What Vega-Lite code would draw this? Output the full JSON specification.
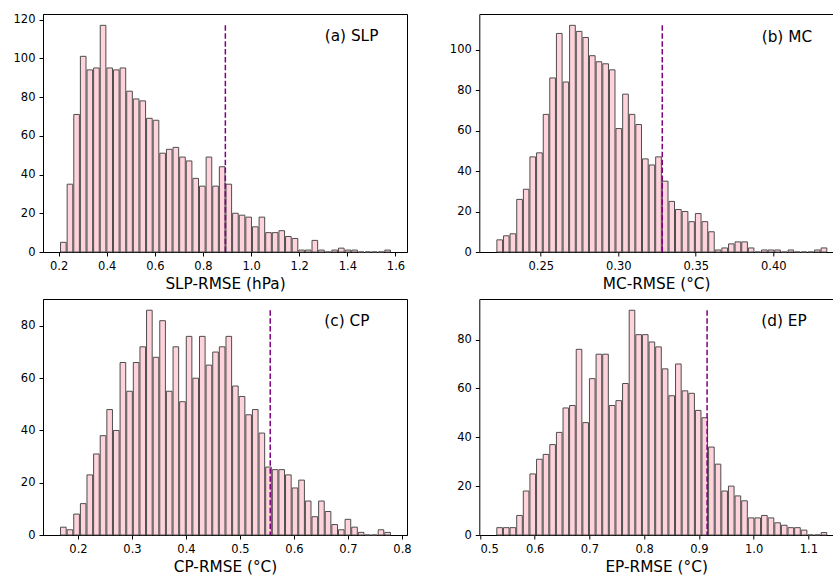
{
  "$schema": "https://vega.github.io/schema/vega-lite/v6.json",
  "padding": {"left": 12, "top": 13, "right": 0, "bottom": 0},
  "background": "white",
  "config": {
    "view": {"stroke": "black", "strokeWidth": 1},
    "font": "DejaVu Sans",
    "axis": {"labelFont": "DejaVu Sans", "labelFontSize": 11.5, "labelColor": "black", "titleFont": "DejaVu Sans", "titleFontSize": 15.3, "titleFontWeight": "normal", "titleColor": "black", "tickColor": "black", "tickSize": 4, "tickWidth": 1, "domainColor": "black", "domainWidth": 1, "labelPadding": 4, "titlePadding": 5, "grid": false}
  },
  "datasets": {
    "slp": [
      {"lo": 0.2040, "hi": 0.2315, "n": 5}, {"lo": 0.2315, "hi": 0.2590, "n": 35}, {"lo": 0.2590, "hi": 0.2865, "n": 71}, {"lo": 0.2865, "hi": 0.3140, "n": 101}, {"lo": 0.3140, "hi": 0.3415, "n": 94},
      {"lo": 0.3415, "hi": 0.3690, "n": 95}, {"lo": 0.3690, "hi": 0.3965, "n": 117}, {"lo": 0.3965, "hi": 0.4240, "n": 95}, {"lo": 0.4240, "hi": 0.4515, "n": 94}, {"lo": 0.4515, "hi": 0.4790, "n": 95},
      {"lo": 0.4790, "hi": 0.5065, "n": 83}, {"lo": 0.5065, "hi": 0.5340, "n": 79}, {"lo": 0.5340, "hi": 0.5615, "n": 78}, {"lo": 0.5615, "hi": 0.5890, "n": 69}, {"lo": 0.5890, "hi": 0.6165, "n": 68},
      {"lo": 0.6165, "hi": 0.6440, "n": 51}, {"lo": 0.6440, "hi": 0.6715, "n": 53}, {"lo": 0.6715, "hi": 0.6990, "n": 54}, {"lo": 0.6990, "hi": 0.7265, "n": 49}, {"lo": 0.7265, "hi": 0.7540, "n": 47},
      {"lo": 0.7540, "hi": 0.7815, "n": 38}, {"lo": 0.7815, "hi": 0.8090, "n": 34}, {"lo": 0.8090, "hi": 0.8365, "n": 49}, {"lo": 0.8365, "hi": 0.8640, "n": 34}, {"lo": 0.8640, "hi": 0.8915, "n": 44},
      {"lo": 0.8915, "hi": 0.9190, "n": 35}, {"lo": 0.9190, "hi": 0.9465, "n": 20}, {"lo": 0.9465, "hi": 0.9740, "n": 19}, {"lo": 0.9740, "hi": 1.0015, "n": 18}, {"lo": 1.0015, "hi": 1.0290, "n": 13},
      {"lo": 1.0290, "hi": 1.0565, "n": 18}, {"lo": 1.0565, "hi": 1.0840, "n": 10}, {"lo": 1.0840, "hi": 1.1115, "n": 10}, {"lo": 1.1115, "hi": 1.1390, "n": 11}, {"lo": 1.1390, "hi": 1.1665, "n": 8},
      {"lo": 1.1665, "hi": 1.1940, "n": 7}, {"lo": 1.1940, "hi": 1.2215, "n": 1}, {"lo": 1.2215, "hi": 1.2490, "n": 1}, {"lo": 1.2490, "hi": 1.2765, "n": 6}, {"lo": 1.2765, "hi": 1.3040, "n": 1},
      {"lo": 1.3040, "hi": 1.3315, "n": 0}, {"lo": 1.3315, "hi": 1.3590, "n": 1}, {"lo": 1.3590, "hi": 1.3865, "n": 2}, {"lo": 1.3865, "hi": 1.4140, "n": 1}, {"lo": 1.4140, "hi": 1.4415, "n": 1},
      {"lo": 1.4415, "hi": 1.4690, "n": 0}, {"lo": 1.4690, "hi": 1.4965, "n": 0}, {"lo": 1.4965, "hi": 1.5240, "n": 0}, {"lo": 1.5240, "hi": 1.5515, "n": 0}, {"lo": 1.5515, "hi": 1.5790, "n": 1}
    ],
    "mc": [
      {"lo": 0.2211, "hi": 0.2254, "n": 6}, {"lo": 0.2254, "hi": 0.2296, "n": 8}, {"lo": 0.2296, "hi": 0.2339, "n": 9}, {"lo": 0.2339, "hi": 0.2382, "n": 26}, {"lo": 0.2382, "hi": 0.2424, "n": 31},
      {"lo": 0.2424, "hi": 0.2467, "n": 47}, {"lo": 0.2467, "hi": 0.2510, "n": 49}, {"lo": 0.2510, "hi": 0.2552, "n": 68}, {"lo": 0.2552, "hi": 0.2595, "n": 86}, {"lo": 0.2595, "hi": 0.2638, "n": 108},
      {"lo": 0.2638, "hi": 0.2680, "n": 84}, {"lo": 0.2680, "hi": 0.2723, "n": 112}, {"lo": 0.2723, "hi": 0.2766, "n": 109}, {"lo": 0.2766, "hi": 0.2808, "n": 106}, {"lo": 0.2808, "hi": 0.2851, "n": 97},
      {"lo": 0.2851, "hi": 0.2894, "n": 94}, {"lo": 0.2894, "hi": 0.2937, "n": 93}, {"lo": 0.2937, "hi": 0.2979, "n": 90}, {"lo": 0.2979, "hi": 0.3022, "n": 61}, {"lo": 0.3022, "hi": 0.3065, "n": 78},
      {"lo": 0.3065, "hi": 0.3107, "n": 68}, {"lo": 0.3107, "hi": 0.3150, "n": 63}, {"lo": 0.3150, "hi": 0.3193, "n": 46}, {"lo": 0.3193, "hi": 0.3235, "n": 43}, {"lo": 0.3235, "hi": 0.3278, "n": 47},
      {"lo": 0.3278, "hi": 0.3321, "n": 35}, {"lo": 0.3321, "hi": 0.3363, "n": 25}, {"lo": 0.3363, "hi": 0.3406, "n": 21}, {"lo": 0.3406, "hi": 0.3449, "n": 20}, {"lo": 0.3449, "hi": 0.3491, "n": 15},
      {"lo": 0.3491, "hi": 0.3534, "n": 19}, {"lo": 0.3534, "hi": 0.3577, "n": 15}, {"lo": 0.3577, "hi": 0.3619, "n": 10}, {"lo": 0.3619, "hi": 0.3662, "n": 1}, {"lo": 0.3662, "hi": 0.3705, "n": 2},
      {"lo": 0.3705, "hi": 0.3747, "n": 4}, {"lo": 0.3747, "hi": 0.3790, "n": 5}, {"lo": 0.3790, "hi": 0.3833, "n": 5}, {"lo": 0.3833, "hi": 0.3875, "n": 2}, {"lo": 0.3875, "hi": 0.3918, "n": 0},
      {"lo": 0.3918, "hi": 0.3961, "n": 1}, {"lo": 0.3961, "hi": 0.4003, "n": 1}, {"lo": 0.4003, "hi": 0.4046, "n": 1}, {"lo": 0.4046, "hi": 0.4089, "n": 0}, {"lo": 0.4089, "hi": 0.4131, "n": 1},
      {"lo": 0.4131, "hi": 0.4174, "n": 0}, {"lo": 0.4174, "hi": 0.4217, "n": 0}, {"lo": 0.4217, "hi": 0.4260, "n": 0}, {"lo": 0.4260, "hi": 0.4302, "n": 1}, {"lo": 0.4302, "hi": 0.4345, "n": 2}
    ],
    "cp": [
      {"lo": 0.1658, "hi": 0.1781, "n": 3}, {"lo": 0.1781, "hi": 0.1903, "n": 2}, {"lo": 0.1903, "hi": 0.2026, "n": 8}, {"lo": 0.2026, "hi": 0.2148, "n": 12}, {"lo": 0.2148, "hi": 0.2271, "n": 23},
      {"lo": 0.2271, "hi": 0.2393, "n": 31}, {"lo": 0.2393, "hi": 0.2516, "n": 38}, {"lo": 0.2516, "hi": 0.2638, "n": 48}, {"lo": 0.2638, "hi": 0.2761, "n": 40}, {"lo": 0.2761, "hi": 0.2884, "n": 66},
      {"lo": 0.2884, "hi": 0.3006, "n": 55}, {"lo": 0.3006, "hi": 0.3129, "n": 66}, {"lo": 0.3129, "hi": 0.3251, "n": 72}, {"lo": 0.3251, "hi": 0.3374, "n": 86}, {"lo": 0.3374, "hi": 0.3496, "n": 68},
      {"lo": 0.3496, "hi": 0.3619, "n": 82}, {"lo": 0.3619, "hi": 0.3742, "n": 55}, {"lo": 0.3742, "hi": 0.3864, "n": 72}, {"lo": 0.3864, "hi": 0.3987, "n": 51}, {"lo": 0.3987, "hi": 0.4109, "n": 76},
      {"lo": 0.4109, "hi": 0.4232, "n": 60}, {"lo": 0.4232, "hi": 0.4354, "n": 76}, {"lo": 0.4354, "hi": 0.4477, "n": 65}, {"lo": 0.4477, "hi": 0.4599, "n": 70}, {"lo": 0.4599, "hi": 0.4722, "n": 72},
      {"lo": 0.4722, "hi": 0.4845, "n": 76}, {"lo": 0.4845, "hi": 0.4967, "n": 57}, {"lo": 0.4967, "hi": 0.5090, "n": 53}, {"lo": 0.5090, "hi": 0.5212, "n": 46}, {"lo": 0.5212, "hi": 0.5335, "n": 48},
      {"lo": 0.5335, "hi": 0.5457, "n": 39}, {"lo": 0.5457, "hi": 0.5580, "n": 26}, {"lo": 0.5580, "hi": 0.5702, "n": 25}, {"lo": 0.5702, "hi": 0.5825, "n": 25}, {"lo": 0.5825, "hi": 0.5948, "n": 23},
      {"lo": 0.5948, "hi": 0.6070, "n": 18}, {"lo": 0.6070, "hi": 0.6193, "n": 21}, {"lo": 0.6193, "hi": 0.6315, "n": 13}, {"lo": 0.6315, "hi": 0.6438, "n": 7}, {"lo": 0.6438, "hi": 0.6560, "n": 13},
      {"lo": 0.6560, "hi": 0.6683, "n": 9}, {"lo": 0.6683, "hi": 0.6806, "n": 4}, {"lo": 0.6806, "hi": 0.6928, "n": 2}, {"lo": 0.6928, "hi": 0.7051, "n": 6}, {"lo": 0.7051, "hi": 0.7173, "n": 3},
      {"lo": 0.7173, "hi": 0.7296, "n": 1}, {"lo": 0.7296, "hi": 0.7418, "n": 0}, {"lo": 0.7418, "hi": 0.7541, "n": 0}, {"lo": 0.7541, "hi": 0.7663, "n": 2}, {"lo": 0.7663, "hi": 0.7786, "n": 1}
    ],
    "ep": [
      {"lo": 0.5289, "hi": 0.5410, "n": 3}, {"lo": 0.5410, "hi": 0.5531, "n": 3}, {"lo": 0.5531, "hi": 0.5652, "n": 3}, {"lo": 0.5652, "hi": 0.5773, "n": 8}, {"lo": 0.5773, "hi": 0.5894, "n": 18},
      {"lo": 0.5894, "hi": 0.6015, "n": 25}, {"lo": 0.6015, "hi": 0.6136, "n": 31}, {"lo": 0.6136, "hi": 0.6257, "n": 33}, {"lo": 0.6257, "hi": 0.6378, "n": 37}, {"lo": 0.6378, "hi": 0.6499, "n": 42},
      {"lo": 0.6499, "hi": 0.6619, "n": 52}, {"lo": 0.6619, "hi": 0.6740, "n": 53}, {"lo": 0.6740, "hi": 0.6861, "n": 76}, {"lo": 0.6861, "hi": 0.6982, "n": 46}, {"lo": 0.6982, "hi": 0.7103, "n": 64},
      {"lo": 0.7103, "hi": 0.7224, "n": 74}, {"lo": 0.7224, "hi": 0.7345, "n": 74}, {"lo": 0.7345, "hi": 0.7466, "n": 53}, {"lo": 0.7466, "hi": 0.7587, "n": 55}, {"lo": 0.7587, "hi": 0.7708, "n": 62},
      {"lo": 0.7708, "hi": 0.7829, "n": 92}, {"lo": 0.7829, "hi": 0.7950, "n": 82}, {"lo": 0.7950, "hi": 0.8071, "n": 82}, {"lo": 0.8071, "hi": 0.8192, "n": 79}, {"lo": 0.8192, "hi": 0.8313, "n": 77},
      {"lo": 0.8313, "hi": 0.8434, "n": 68}, {"lo": 0.8434, "hi": 0.8555, "n": 57}, {"lo": 0.8555, "hi": 0.8676, "n": 70}, {"lo": 0.8676, "hi": 0.8797, "n": 59}, {"lo": 0.8797, "hi": 0.8918, "n": 58},
      {"lo": 0.8918, "hi": 0.9038, "n": 51}, {"lo": 0.9038, "hi": 0.9159, "n": 48}, {"lo": 0.9159, "hi": 0.9280, "n": 36}, {"lo": 0.9280, "hi": 0.9401, "n": 29}, {"lo": 0.9401, "hi": 0.9522, "n": 18},
      {"lo": 0.9522, "hi": 0.9643, "n": 20}, {"lo": 0.9643, "hi": 0.9764, "n": 16}, {"lo": 0.9764, "hi": 0.9885, "n": 14}, {"lo": 0.9885, "hi": 1.0006, "n": 7}, {"lo": 1.0006, "hi": 1.0127, "n": 7},
      {"lo": 1.0127, "hi": 1.0248, "n": 8}, {"lo": 1.0248, "hi": 1.0369, "n": 7}, {"lo": 1.0369, "hi": 1.0490, "n": 5}, {"lo": 1.0490, "hi": 1.0611, "n": 4}, {"lo": 1.0611, "hi": 1.0732, "n": 3},
      {"lo": 1.0732, "hi": 1.0853, "n": 3}, {"lo": 1.0853, "hi": 1.0974, "n": 2}, {"lo": 1.0974, "hi": 1.1095, "n": 0}, {"lo": 1.1095, "hi": 1.1216, "n": 0}, {"lo": 1.1216, "hi": 1.1337, "n": 1}
    ]
  },
  "columns": 2,
  "spacing": {"row": 47, "column": 72.3},
  "bounds": "flush",
  "concat": [
    {
      "width": 364, "height": 238,
      "layer": [
        {
          "data": {"name": "slp"},
          "mark": {"type": "bar", "fill": "#ffd3db", "stroke": "#4d4d4d", "strokeWidth": 1},
          "encoding": {
            "x": {"field": "lo", "bin": "binned", "type": "quantitative", "scale": {"domain": [0.1353, 1.6478], "nice": false, "zero": false}, "axis": {"values": [0.2, 0.4, 0.6, 0.8, 1.0, 1.2, 1.4, 1.6], "format": ".1f", "title": "SLP-RMSE (hPa)"}},
            "x2": {"field": "hi"},
            "y": {"field": "n", "type": "quantitative", "scale": {"domain": [0, 122.85], "nice": false}, "axis": {"values": [0, 20, 40, 60, 80, 100, 120], "title": null}}
          }
        },
        {
          "data": {"values": [{"threshold": 0.893, "peak": 117}]},
          "mark": {"type": "rule", "color": "#800080", "strokeWidth": 1.5, "strokeDash": [5.5, 2.4]},
          "encoding": {
            "x": {"field": "threshold", "type": "quantitative", "scale": {"domain": [0.1353, 1.6478], "nice": false, "zero": false}, "axis": {"values": [0.2, 0.4, 0.6, 0.8, 1.0, 1.2, 1.4, 1.6], "format": ".1f", "title": "SLP-RMSE (hPa)"}},
            "y": {"field": "peak", "type": "quantitative", "scale": {"domain": [0, 122.85], "nice": false}, "axis": {"values": [0, 20, 40, 60, 80, 100, 120], "title": null}},
            "y2": {"datum": 0}
          }
        },
        {
          "data": {"values": [{"label": "(a) SLP"}]},
          "mark": {"type": "text", "align": "left", "baseline": "middle", "font": "DejaVu Sans", "fontSize": 15.3, "color": "black"},
          "encoding": {
            "x": {"datum": 1.306, "type": "quantitative", "scale": {"domain": [0.1353, 1.6478], "nice": false, "zero": false}, "axis": {"values": [0.2, 0.4, 0.6, 0.8, 1.0, 1.2, 1.4, 1.6], "format": ".1f", "title": "SLP-RMSE (hPa)"}},
            "y": {"datum": 111.3, "type": "quantitative", "scale": {"domain": [0, 122.85], "nice": false}, "axis": {"values": [0, 20, 40, 60, 80, 100, 120], "title": null}},
            "text": {"field": "label"}
          }
        }
      ]
    },
    {
      "width": 353.7, "height": 238,
      "view": {"stroke": null},
      "resolve": {"axis": {"x": "independent"}},
      "layer": [
        {
          "data": {"name": "mc"},
          "mark": {"type": "bar", "fill": "#ffd3db", "stroke": "#4d4d4d", "strokeWidth": 1},
          "encoding": {
            "x": {"field": "lo", "bin": "binned", "type": "quantitative", "scale": {"domain": [0.2104, 0.4385], "nice": false, "zero": false}, "axis": {"values": [0.25, 0.30, 0.35, 0.40], "format": ".2f", "title": "MC-RMSE (°C)"}},
            "x2": {"field": "hi"},
            "y": {"field": "n", "type": "quantitative", "scale": {"domain": [0, 117.6], "nice": false}, "axis": {"values": [0, 20, 40, 60, 80, 100], "title": null}}
          }
        },
        {
          "data": {"values": [{"threshold": 0.3284, "peak": 112}]},
          "mark": {"type": "rule", "color": "#800080", "strokeWidth": 1.5, "strokeDash": [5.5, 2.4]},
          "encoding": {
            "x": {"field": "threshold", "type": "quantitative", "scale": {"domain": [0.2104, 0.4385], "nice": false, "zero": false}, "axis": {"orient": "top", "labels": false, "ticks": false, "title": null, "domain": true}},
            "y": {"field": "peak", "type": "quantitative", "scale": {"domain": [0, 117.6], "nice": false}, "axis": {"values": [0, 20, 40, 60, 80, 100], "title": null}},
            "y2": {"datum": 0}
          }
        },
        {
          "data": {"values": [{"label": "(b) MC"}]},
          "mark": {"type": "text", "align": "left", "baseline": "middle", "font": "DejaVu Sans", "fontSize": 15.3, "color": "black"},
          "encoding": {
            "x": {"datum": 0.3925, "type": "quantitative", "scale": {"domain": [0.2104, 0.4385], "nice": false, "zero": false}, "axis": null},
            "y": {"datum": 106.4, "type": "quantitative", "scale": {"domain": [0, 117.6], "nice": false}, "axis": {"values": [0, 20, 40, 60, 80, 100], "title": null}},
            "text": {"field": "label"}
          }
        }
      ]
    },
    {
      "width": 364, "height": 236,
      "layer": [
        {
          "data": {"name": "cp"},
          "mark": {"type": "bar", "fill": "#ffd3db", "stroke": "#4d4d4d", "strokeWidth": 1},
          "encoding": {
            "x": {"field": "lo", "bin": "binned", "type": "quantitative", "scale": {"domain": [0.1352, 0.8093], "nice": false, "zero": false}, "axis": {"values": [0.2, 0.3, 0.4, 0.5, 0.6, 0.7, 0.8], "format": ".1f", "title": "CP-RMSE (°C)"}},
            "x2": {"field": "hi"},
            "y": {"field": "n", "type": "quantitative", "scale": {"domain": [0, 90.3], "nice": false}, "axis": {"values": [0, 20, 40, 60, 80], "title": null}}
          }
        },
        {
          "data": {"values": [{"threshold": 0.556, "peak": 86}]},
          "mark": {"type": "rule", "color": "#800080", "strokeWidth": 1.5, "strokeDash": [5.5, 2.4]},
          "encoding": {
            "x": {"field": "threshold", "type": "quantitative", "scale": {"domain": [0.1352, 0.8093], "nice": false, "zero": false}, "axis": {"values": [0.2, 0.3, 0.4, 0.5, 0.6, 0.7, 0.8], "format": ".1f", "title": "CP-RMSE (°C)"}},
            "y": {"field": "peak", "type": "quantitative", "scale": {"domain": [0, 90.3], "nice": false}, "axis": {"values": [0, 20, 40, 60, 80], "title": null}},
            "y2": {"datum": 0}
          }
        },
        {
          "data": {"values": [{"label": "(c) CP"}]},
          "mark": {"type": "text", "align": "left", "baseline": "middle", "font": "DejaVu Sans", "fontSize": 15.3, "color": "black"},
          "encoding": {
            "x": {"datum": 0.6561, "type": "quantitative", "scale": {"domain": [0.1352, 0.8093], "nice": false, "zero": false}, "axis": {"values": [0.2, 0.3, 0.4, 0.5, 0.6, 0.7, 0.8], "format": ".1f", "title": "CP-RMSE (°C)"}},
            "y": {"datum": 81.7, "type": "quantitative", "scale": {"domain": [0, 90.3], "nice": false}, "axis": {"values": [0, 20, 40, 60, 80], "title": null}},
            "text": {"field": "label"}
          }
        }
      ]
    },
    {
      "width": 353.7, "height": 236,
      "view": {"stroke": null},
      "resolve": {"axis": {"x": "independent"}},
      "layer": [
        {
          "data": {"name": "ep"},
          "mark": {"type": "bar", "fill": "#ffd3db", "stroke": "#4d4d4d", "strokeWidth": 1},
          "encoding": {
            "x": {"field": "lo", "bin": "binned", "type": "quantitative", "scale": {"domain": [0.4987, 1.1451], "nice": false, "zero": false}, "axis": {"values": [0.5, 0.6, 0.7, 0.8, 0.9, 1.0, 1.1], "format": ".1f", "title": "EP-RMSE (°C)"}},
            "x2": {"field": "hi"},
            "y": {"field": "n", "type": "quantitative", "scale": {"domain": [0, 96.6], "nice": false}, "axis": {"values": [0, 20, 40, 60, 80], "title": null}}
          }
        },
        {
          "data": {"values": [{"threshold": 0.915, "peak": 92}]},
          "mark": {"type": "rule", "color": "#800080", "strokeWidth": 1.5, "strokeDash": [5.5, 2.4]},
          "encoding": {
            "x": {"field": "threshold", "type": "quantitative", "scale": {"domain": [0.4987, 1.1451], "nice": false, "zero": false}, "axis": {"orient": "top", "labels": false, "ticks": false, "title": null, "domain": true}},
            "y": {"field": "peak", "type": "quantitative", "scale": {"domain": [0, 96.6], "nice": false}, "axis": {"values": [0, 20, 40, 60, 80], "title": null}},
            "y2": {"datum": 0}
          }
        },
        {
          "data": {"values": [{"label": "(d) EP"}]},
          "mark": {"type": "text", "align": "left", "baseline": "middle", "font": "DejaVu Sans", "fontSize": 15.3, "color": "black"},
          "encoding": {
            "x": {"datum": 1.014, "type": "quantitative", "scale": {"domain": [0.4987, 1.1451], "nice": false, "zero": false}, "axis": null},
            "y": {"datum": 87.4, "type": "quantitative", "scale": {"domain": [0, 96.6], "nice": false}, "axis": {"values": [0, 20, 40, 60, 80], "title": null}},
            "text": {"field": "label"}
          }
        }
      ]
    }
  ]
}
